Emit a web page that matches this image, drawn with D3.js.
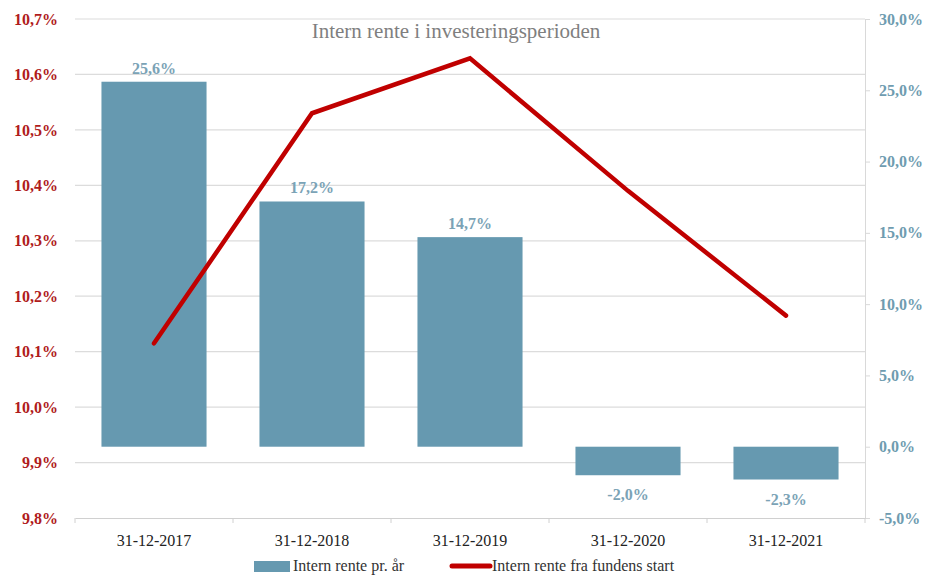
<!DOCTYPE html>
<html>
<head>
<meta charset="utf-8">
<script src="https://cdn.jsdelivr.net/npm/d3@7"></script>
<style>
  body { margin: 0; background: #fff; }
  text { font-family: "Liberation Serif", "DejaVu Serif", serif; }
</style>
</head>
<body>
<div class="chart"></div>
<script>
const categories = ["31-12-2017", "31-12-2018", "31-12-2019", "31-12-2020", "31-12-2021"];
const yearly = [25.6, 17.2, 14.7, -2.0, -2.3];          // Intern rente pr. år (right axis)
const cumulative = [10.115, 10.53, 10.629, 10.39, 10.165]; // Intern rente fra fundens start (left axis)
const leftTicks = [9.8, 9.9, 10.0, 10.1, 10.2, 10.3, 10.4, 10.5, 10.6, 10.7];
const rightTicks = [-5, 0, 5, 10, 15, 20, 25, 30];

const W = 928, H = 576;
const margin = {left: 75, top: 19, right: 63, bottom: 58};
const width = W - margin.left - margin.right;
const height = H - margin.top - margin.bottom;

const barColor = "#6699b0";
const lineColor = "#c00000";
const fmt = d => d.toFixed(1).replace(".", ",") + "%";

let svg = d3.select(".chart")
  .append("svg")
  .attr("width", W)
  .attr("height", H)
  .append("g")
  .attr("transform", "translate(" + margin.left + "," + margin.top + ")");

let x = d3.scaleBand()
  .domain(categories)
  .range([0, width])
  .paddingInner(0.335)
  .paddingOuter(0.1675);

let yLeft = d3.scaleLinear().domain([9.8, 10.7]).range([height, 0]);
let yRight = d3.scaleLinear().domain([-5, 30]).range([height, 0]);

// gridlines
svg.append("g")
  .selectAll("line")
  .data(leftTicks.slice(1))
  .enter()
  .append("line")
  .attr("x1", 0)
  .attr("x2", width)
  .attr("y1", d => yLeft(d))
  .attr("y2", d => yLeft(d))
  .attr("stroke", "#dcdcdc")
  .attr("stroke-width", 1.2);

// left axis labels
svg.append("g")
  .call(d3.axisLeft(yLeft).tickValues(leftTicks).tickSize(0).tickPadding(17).tickFormat(fmt))
  .call(g => g.select(".domain").remove())
  .selectAll("text")
  .attr("fill", "#b01c1c")
  .style("font-size", "16px")
  .style("font-weight", "bold");

// right axis
let ra = svg.append("g")
  .attr("transform", "translate(" + width + ",0)")
  .call(d3.axisRight(yRight).tickValues(rightTicks).tickSize(5).tickPadding(9).tickFormat(fmt));
ra.select(".domain").attr("stroke", "#d9d9d9");
ra.selectAll("line").attr("stroke", "#d9d9d9");
ra.selectAll("text")
  .attr("fill", "#6f9cb0")
  .style("font-size", "16px")
  .style("font-weight", "bold");

// bottom axis
let xa = svg.append("g")
  .attr("transform", "translate(0," + height + ")")
  .call(d3.axisBottom(x).tickSize(0).tickPadding(17));
xa.select(".domain").attr("stroke", "#d0d0d0").attr("stroke-width", 1.2);
xa.selectAll("text")
  .attr("fill", "#222")
  .style("font-size", "16px");
xa.selectAll(".sep")
  .data(d3.range(categories.length + 1))
  .enter()
  .append("line")
  .attr("x1", i => i * width / categories.length)
  .attr("x2", i => i * width / categories.length)
  .attr("y1", 0)
  .attr("y2", 5)
  .attr("stroke", "#d0d0d0");

// bars
svg.selectAll("rect.bar")
  .data(yearly)
  .enter()
  .append("rect")
  .attr("class", "bar")
  .attr("x", (d, i) => x(categories[i]))
  .attr("y", d => yRight(Math.max(d, 0)))
  .attr("width", x.bandwidth())
  .attr("height", d => Math.abs(yRight(d) - yRight(0)))
  .attr("fill", barColor);

// bar labels
svg.selectAll("text.blabel")
  .data(yearly)
  .enter()
  .append("text")
  .attr("class", "blabel")
  .attr("x", (d, i) => x(categories[i]) + x.bandwidth() / 2)
  .attr("y", d => d >= 0 ? yRight(d) - 8 : yRight(d) + 25)
  .attr("text-anchor", "middle")
  .attr("fill", "#7ba3b6")
  .style("font-size", "16px")
  .style("font-weight", "bold")
  .text(fmt);

// line
let line = d3.line()
  .x((d, i) => x(categories[i]) + x.bandwidth() / 2)
  .y(d => yLeft(d));

svg.append("path")
  .datum(cumulative)
  .attr("d", line)
  .attr("fill", "none")
  .attr("stroke", lineColor)
  .attr("stroke-width", 4.5)
  .attr("stroke-linecap", "round")
  .attr("stroke-linejoin", "miter");

// title
svg.append("text")
  .attr("x", 456 - margin.left)
  .attr("y", 38 - margin.top)
  .attr("text-anchor", "middle")
  .attr("fill", "#7f7f7f")
  .style("font-size", "21px")
  .text("Intern rente i investeringsperioden");

// legend
let lg = svg.append("g").attr("transform", "translate(" + (-margin.left) + "," + (-margin.top) + ")");
lg.append("rect")
  .attr("x", 254).attr("y", 561).attr("width", 36).attr("height", 11)
  .attr("fill", barColor);
lg.append("text")
  .attr("x", 293).attr("y", 571)
  .attr("fill", "#333")
  .style("font-size", "16px")
  .text("Intern rente pr. år");
lg.append("line")
  .attr("x1", 452).attr("x2", 490).attr("y1", 566).attr("y2", 566)
  .attr("stroke", lineColor)
  .attr("stroke-width", 5)
  .attr("stroke-linecap", "round");
lg.append("text")
  .attr("x", 492).attr("y", 571)
  .attr("fill", "#333")
  .style("font-size", "16px")
  .text("Intern rente fra fundens start");
</script>
</body>
</html>
